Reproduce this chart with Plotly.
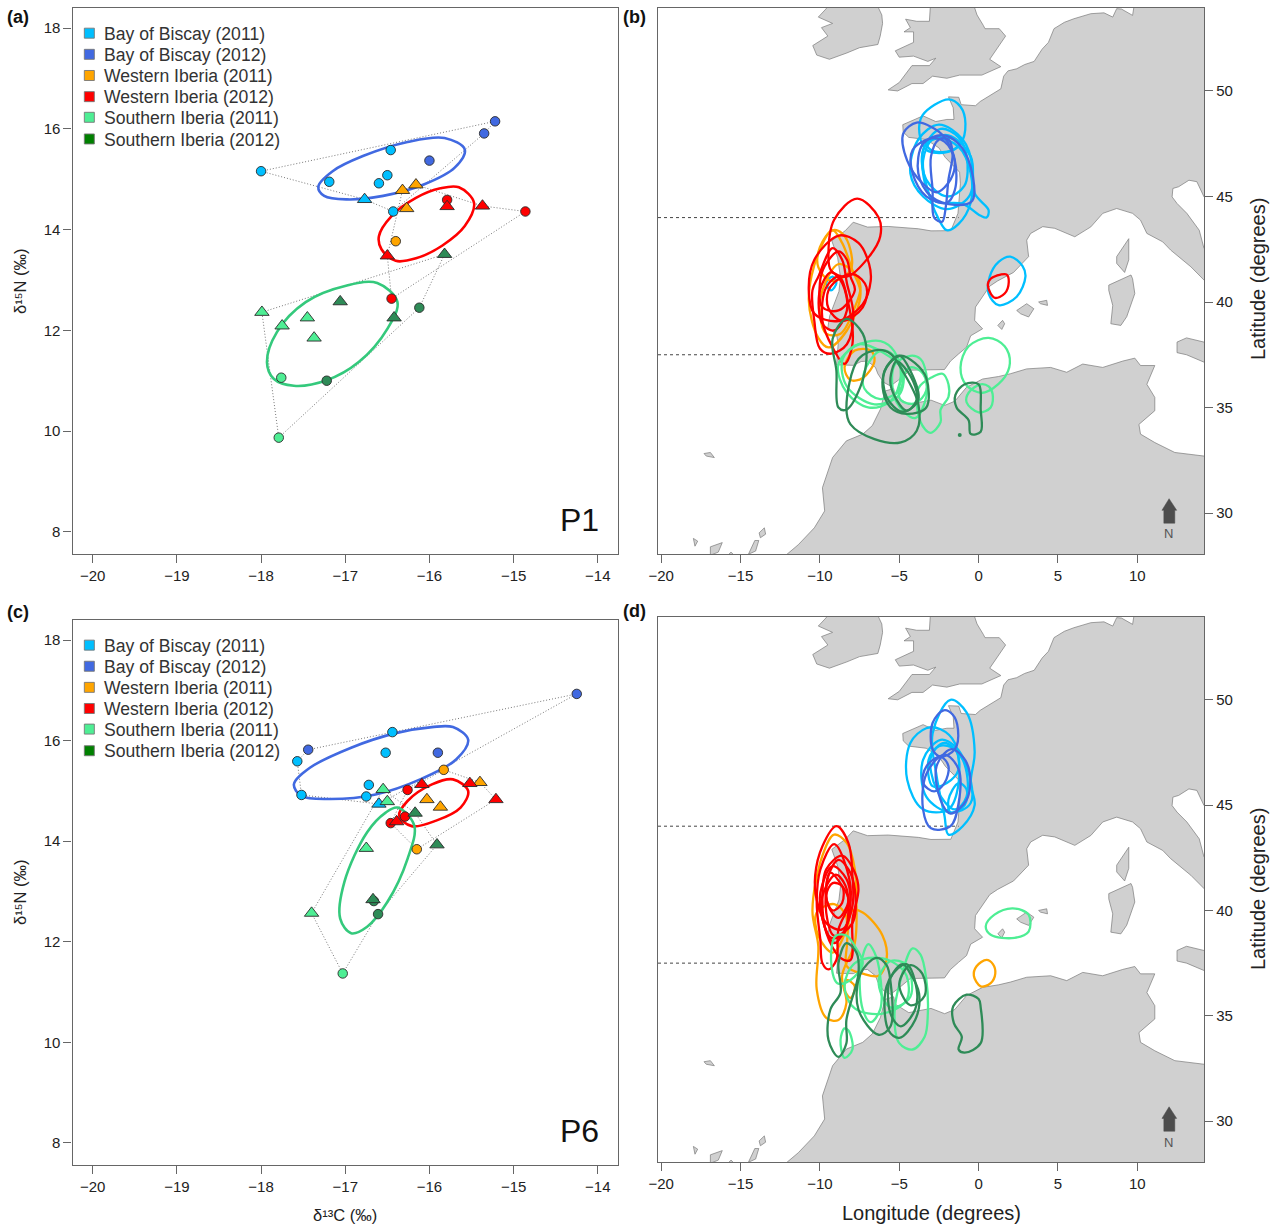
import plotly.graph_objects as go

W, H = 1278, 1228
GROUPS = ["Bay of Biscay (2011)", "Bay of Biscay (2012)", "Western Iberia (2011)",
          "Western Iberia (2012)", "Southern Iberia (2011)", "Southern Iberia (2012)"]
COLORS = ["#00BFFF", "#4169E1", "#FFA500", "#FF0000", "#4EEE94", "#2E8B57"]
LEGEND_SWATCH = ["#00BFFF", "#4169E1", "#FFA500", "#FF0000", "#4EEE94", "#008000"]
ELLIPSE_COLORS = {"b": "#4169E1", "r": "#FF0000", "g": "#34C97C"}

# ---------- Panel (a), P1: isotope values (d13C, d15N) ----------
A_CIRCLES = [
    [(-18.0, 15.16), (-17.19, 14.95), (-16.6, 14.92), (-16.5, 15.08), (-16.46, 15.58), (-16.43, 14.36)],
    [(-15.22, 16.15), (-15.35, 15.91), (-16.0, 15.37)],
    [(-16.4, 13.77)],
    [(-15.79, 14.59), (-14.86, 14.36), (-16.45, 12.63)],
    [(-17.76, 11.06), (-17.79, 9.87)],
    [(-16.12, 12.45), (-17.22, 11.0)],
]
A_TRIANGLES = [
    [(-16.77, 14.6)],
    [],
    [(-16.16, 14.89), (-16.32, 14.78), (-16.27, 14.42)],
    [(-15.79, 14.46), (-15.37, 14.47), (-16.5, 13.48)],
    [(-17.99, 12.36), (-17.75, 12.09), (-17.45, 12.25), (-17.37, 11.85)],
    [(-17.06, 12.57), (-16.42, 12.25), (-15.82, 13.51)],
]
A_HULLS = [
    [(-18.0, 15.16), (-15.22, 16.15), (-15.35, 15.91), (-16.43, 14.36), (-16.77, 14.6), (-18.0, 15.16)],
    [(-16.16, 14.89), (-15.37, 14.47), (-14.86, 14.36), (-16.45, 12.63), (-16.5, 13.48), (-16.32, 14.78), (-16.16, 14.89)],
    [(-17.99, 12.36), (-15.82, 13.51), (-16.12, 12.45), (-17.79, 9.87), (-17.99, 12.36)],
]
A_ELLIPSE_BLUE = [(-17.32, 14.85), (-17.15, 15.16), (-16.79, 15.46), (-16.26, 15.74), (-15.82, 15.82), (-15.58, 15.59),
                  (-15.7, 15.23), (-16.06, 14.9), (-16.55, 14.67), (-16.98, 14.6), (-17.25, 14.67)]
A_ELLIPSE_RED = [(-15.65, 14.84), (-15.47, 14.53), (-15.58, 14.07), (-15.85, 13.68), (-16.16, 13.43), (-16.4, 13.38),
                 (-16.57, 13.61), (-16.6, 13.87), (-16.45, 14.27), (-16.16, 14.63), (-15.87, 14.82)]
A_ELLIPSE_GREEN = [(-16.62, 12.94), (-16.38, 12.56), (-16.5, 12.03), (-16.84, 11.37), (-17.22, 11.01), (-17.61, 10.9),
                   (-17.85, 11.04), (-17.93, 11.37), (-17.81, 11.97), (-17.47, 12.56), (-16.98, 12.89)]

# ---------- Panel (c), P6 ----------
C_CIRCLES = [
    [(-17.57, 15.59), (-17.52, 14.92), (-16.75, 14.89), (-16.72, 15.12), (-16.52, 15.76), (-16.44, 16.17)],
    [(-17.44, 15.82), (-15.9, 15.76), (-14.25, 16.93)],
    [(-15.83, 15.42), (-16.15, 13.84)],
    [(-16.26, 15.02), (-16.29, 14.49), (-16.46, 14.36)],
    [(-17.03, 11.37)],
    [(-16.66, 12.81), (-16.61, 12.55)],
]
C_TRIANGLES = [
    [(-16.6, 14.74)],
    [],
    [(-15.4, 15.17), (-16.03, 14.83), (-15.87, 14.68)],
    [(-16.09, 15.13), (-15.52, 15.15), (-15.21, 14.83), (-16.39, 14.39)],
    [(-16.55, 15.03), (-16.5, 14.79), (-16.75, 13.86), (-17.4, 12.57)],
    [(-16.17, 14.56), (-15.91, 13.93), (-16.67, 12.84)],
]
C_HULLS = [
    [(-17.44, 15.82), (-16.44, 16.17), (-14.25, 16.93), (-16.6, 14.74), (-17.52, 14.92), (-17.57, 15.59), (-17.44, 15.82)],
    [(-15.83, 15.42), (-15.4, 15.17), (-15.21, 14.83), (-16.15, 13.84), (-16.46, 14.36), (-16.26, 15.02), (-15.83, 15.42)],
    [(-16.55, 15.03), (-16.17, 14.56), (-15.91, 13.93), (-16.61, 12.55), (-17.03, 11.37), (-17.4, 12.57), (-16.55, 15.03)],
]
C_ELLIPSE_BLUE = [(-15.72, 16.27), (-15.54, 16.02), (-15.68, 15.63), (-16.11, 15.23), (-16.64, 14.93), (-17.18, 14.84),
                  (-17.52, 14.9), (-17.61, 15.13), (-17.42, 15.46), (-16.93, 15.86), (-16.4, 16.15), (-15.97, 16.27)]
C_ELLIPSE_RED = [(-15.72, 15.23), (-15.54, 15.0), (-15.63, 14.67), (-15.92, 14.41), (-16.21, 14.3), (-16.36, 14.51),
                 (-16.26, 14.8), (-15.97, 15.13)]
C_ELLIPSE_GREEN = [(-16.38, 14.67), (-16.18, 14.31), (-16.26, 13.65), (-16.5, 12.79), (-16.74, 12.3), (-16.93, 12.17),
                   (-17.06, 12.46), (-17.01, 13.19), (-16.74, 14.18), (-16.52, 14.57)]

# ---------- Land outlines (lon, lat) ----------
LAND_EUROPE = [
    (15, 55), (15, 45.05), (14.2, 44.98), (13.75, 45.7), (13.25, 45.77), (12.6, 45.46), (12.24, 45.38), (12.19, 44.98),
    (12.5, 44.67), (13.12, 44.2), (13.9, 43.4), (14.2, 42.54), (15, 42), (15, 40.4), (14.2, 41.04), (13.37, 41.67),
    (12.1, 42.46), (11.6, 42.85), (10.6, 43.25), (10.2, 43.88), (9.7, 44.2), (8.7, 44.43), (7.82, 44.2), (7.07, 43.56),
    (6.06, 43.09), (4.8, 43.49), (4.04, 43.57), (3.28, 43.25), (3.03, 42.93), (3.15, 42.15), (2.2, 41.4), (1.2, 41.0),
    (0.7, 40.75), (0.38, 40.4), (-0.2, 39.76), (-0.25, 39.13), (0.25, 38.73), (-0.5, 38.4), (-0.76, 37.86), (-1.26, 37.54),
    (-1.77, 37.2), (-2.15, 36.8), (-3.3, 36.8), (-4.3, 36.77), (-5.05, 36.3), (-5.55, 36.02), (-6.0, 36.2), (-6.35, 36.6),
    (-6.5, 36.9), (-7.0, 37.2), (-7.4, 37.18), (-7.9, 37.0), (-8.95, 37.02), (-8.85, 38.0), (-8.95, 38.45), (-9.5, 38.78),
    (-9.38, 39.35), (-8.8, 40.5), (-8.7, 41.15), (-8.88, 42.1), (-9.25, 42.9), (-8.4, 43.38), (-7.9, 43.78), (-7.0, 43.55),
    (-5.7, 43.58), (-3.8, 43.47), (-3.0, 43.37), (-1.75, 43.38), (-1.3, 44.2), (-1.25, 44.65), (-1.15, 45.6), (-1.2, 46.15),
    (-2.1, 46.85), (-2.5, 47.3), (-3.3, 47.7), (-4.4, 47.8), (-4.75, 48.05), (-4.78, 48.4), (-3.5, 48.82), (-2.7, 48.55),
    (-2.0, 48.65), (-1.55, 48.65), (-1.6, 49.2), (-1.9, 49.72), (-1.25, 49.7), (-1.1, 49.35), (-0.2, 49.3), (0.1, 49.5),
    (1.4, 50.1), (1.58, 50.7), (1.85, 50.95), (2.4, 51.05), (2.9, 51.25), (3.5, 51.4), (4.0, 51.98), (4.4, 52.3), (4.75, 52.95),
    (5.4, 53.25), (6.0, 53.42), (7.07, 53.66), (7.9, 53.7), (8.45, 53.5), (8.7, 53.9), (9.0, 53.88), (9.7, 53.58), (10, 55),
]
LAND_AFRICA = [
    (-12.5, 27), (-12.1, 28.03), (-11.36, 28.5), (-10.35, 29.3), (-9.7, 30.1), (-9.84, 31.2), (-9.2, 32.63), (-8.33, 33.42),
    (-7.3, 33.74), (-6.7, 34.14), (-6.18, 34.93), (-5.9, 35.78), (-5.35, 35.9), (-5.25, 35.55), (-4.4, 35.15), (-3.7, 35.25),
    (-3.0, 35.35), (-2.14, 35.1), (-1.5, 35.3), (-0.76, 35.96), (0.25, 36.35), (1.26, 36.47), (2.0, 36.6), (3.03, 36.83),
    (4.54, 36.9), (5.55, 36.67), (6.56, 37.06), (7.82, 36.9), (9.08, 37.2), (9.84, 37.34), (10.2, 36.99), (11.1, 36.99),
    (10.6, 36.1), (11.1, 35.48), (11.1, 34.85), (10.1, 34.2), (10.2, 33.74), (11.1, 33.34), (12.36, 32.87), (14.2, 32.7),
    (15, 32.6), (15, 27),
]
LAND_IRELAND = [
    (-6.35, 54.5), (-6.35, 54.0), (-6.1, 53.6), (-6.05, 53.2), (-6.2, 52.6), (-6.35, 52.2), (-7.5, 52.05), (-8.3, 51.8),
    (-9.4, 51.5), (-10.2, 51.7), (-10.45, 52.15), (-9.5, 52.6), (-9.9, 53.0), (-9.2, 53.2), (-10.1, 53.5), (-9.6, 53.9), (-10.0, 54.5),
]
LAND_BRITAIN = [
    (-3.0, 54.5), (-3.05, 53.7), (-3.1, 53.3), (-3.9, 53.3), (-4.6, 53.4), (-4.3, 53.0), (-4.7, 52.8), (-4.1, 52.8), (-4.1, 52.3),
    (-5.25, 51.9), (-5.0, 51.6), (-4.1, 51.65), (-3.2, 51.4), (-2.7, 51.55), (-3.1, 51.2), (-4.2, 51.2), (-5.0, 50.4), (-5.7, 50.05),
    (-5.1, 50.0), (-4.2, 50.35), (-3.5, 50.35), (-2.9, 50.7), (-2.0, 50.6), (-1.2, 50.75), (0.2, 50.75), (1.4, 51.15), (0.7, 51.5),
    (1.7, 52.6), (1.3, 52.95), (0.4, 52.95), (0.3, 53.1), (-0.1, 53.6), (-0.5, 54.5),
]
LAND_ISLANDS = [
    [(12.5, 38.1), (13.1, 38.3), (14.2, 38.1), (15, 38), (15, 36.6), (14.2, 37.15), (13.1, 37.5), (12.5, 37.6)],
    [(9.6, 41.28), (8.2, 40.8), (8.2, 40.55), (8.45, 39.84), (8.33, 38.97), (8.96, 38.89), (9.33, 39.3), (9.84, 40.4), (9.7, 41.1)],
    [(9.46, 43.0), (8.7, 42.15), (8.7, 41.83), (9.2, 41.4), (9.46, 42.0)],
    [(2.4, 39.6), (3.03, 39.92), (3.48, 39.68), (3.15, 39.29), (2.65, 39.44)],
    [(3.78, 40.0), (4.29, 40.08), (4.34, 39.84), (3.9, 39.92)],
    [(1.21, 38.89), (1.51, 39.13), (1.64, 38.97), (1.46, 38.7)],
    [(-17.3, 32.82), (-16.9, 32.87), (-16.65, 32.63), (-17.16, 32.7)],
    [(-17.97, 28.8), (-17.7, 28.67), (-17.87, 28.43)],
    [(-16.9, 28.0), (-16.9, 28.4), (-16.15, 28.6), (-16.4, 28.15)],
    [(-15.8, 28.0), (-15.6, 28.15), (-15.4, 28.0)],
    [(-14.5, 28.05), (-14.1, 28.7), (-13.85, 28.7), (-14.05, 28.2)],
    [(-13.83, 29.06), (-13.5, 29.3), (-13.42, 29.0), (-13.75, 28.83)],
]
NORTH_ARROW_LON = [12.0, 12.48, 12.36, 12.36, 11.67, 11.67, 11.55, 12.0]
NORTH_ARROW_LAT = [30.68, 30.13, 30.13, 29.52, 29.52, 30.13, 30.13, 30.68]
DASH_NORTH_LAT, DASH_NORTH_END = 44.0, -1.26
DASH_SOUTH_LAT, DASH_SOUTH_END = 37.5, -9.46

# ---------- Panel (b) core ranges ----------
B_BISCAY11 = [
    [(-1.9, 49.6), (-3.53, 48.85), (-3.73, 48.0), (-3.28, 47.2), (-2.0, 47.1), (-1.14, 47.5), (-0.83, 48.45), (-1.14, 49.25)],
    [(-2.5, 48.4), (-3.8, 47.7), (-4.3, 46.1), (-3.5, 45.0), (-2.0, 44.4), (-0.6, 45.0), (-0.4, 46.4), (-1.0, 47.7)],
    [(0.5, 44.0), (0.63, 44.35), (-0.25, 45.15), (-0.5, 46.9), (-1.9, 47.9), (-3.3, 47.5), (-3.5, 46.1), (-2.8, 44.8), (-1.0, 44.65), (0.1, 44.1)],
    [(-2.0, 43.4), (-1.26, 43.7), (-0.5, 44.7), (-0.5, 46.1), (-1.26, 47.35), (-2.8, 47.75), (-3.5, 46.7), (-3.0, 44.8), (-2.5, 43.9)],
    [(-2.4, 48.2), (-3.5, 47.2), (-3.3, 45.8), (-2.0, 45.0), (-0.9, 45.5), (-0.75, 46.9), (-1.26, 47.8)],
    [(-2.27, 47.8), (-3.28, 47.5), (-3.0, 47.2), (-2.27, 47.1), (-1.4, 47.3), (-1.26, 47.6)],
    [(2.0, 42.15), (1.26, 41.9), (0.7, 41.2), (0.63, 40.4), (1.26, 39.85), (2.4, 40.25), (2.95, 41.2), (2.77, 41.7)],
    [(-9.2, 41.2), (-9.6, 40.9), (-9.3, 40.55), (-8.96, 40.9)],
]
B_BISCAY12 = [
    [(-3.9, 48.5), (-4.74, 48.0), (-4.5, 46.7), (-3.5, 45.6), (-2.65, 45.2), (-1.77, 45.8), (-1.5, 46.7), (-2.15, 47.8), (-3.0, 48.3)],
    [(-2.27, 47.9), (-3.5, 47.5), (-3.8, 46.1), (-3.0, 45.0), (-1.5, 44.6), (-0.4, 44.8), (-0.5, 46.4), (-1.26, 47.5)],
    [(-2.5, 47.7), (-3.0, 46.9), (-2.9, 45.3), (-2.8, 44.0), (-2.3, 43.8), (-2.07, 44.5), (-1.9, 45.8), (-1.64, 47.0), (-1.9, 47.7)],
    [(-3.0, 47.75), (-4.16, 47.2), (-4.16, 46.1), (-3.3, 45.0), (-2.0, 44.7), (-1.5, 45.3), (-1.5, 46.7), (-2.15, 47.6)],
]
B_WEST11 = [
    [(-9.2, 43.4), (-10.1, 42.3), (-10.7, 40.1), (-10.1, 38.3), (-9.46, 37.85), (-8.3, 38.65), (-7.44, 40.4), (-7.95, 41.5), (-8.6, 42.8)],
    [(-9.2, 43.4), (-10.0, 42.6), (-10.1, 41.65), (-9.3, 41.0), (-8.07, 41.5), (-8.07, 42.45), (-8.6, 43.25)],
    [(-7.8, 37.7), (-8.45, 36.9), (-8.07, 36.3), (-7.3, 36.4), (-6.56, 37.2), (-6.8, 37.7)],
    [(-8.83, 41.8), (-9.84, 40.55), (-10.0, 39.45), (-9.6, 38.5), (-8.7, 38.5), (-7.8, 39.75), (-7.44, 40.7), (-7.8, 41.35)],
]
B_WEST12 = [
    [(-7.65, 44.9), (-6.3, 44.0), (-6.2, 43.1), (-6.9, 42.15), (-8.3, 41.2), (-9.3, 41.5), (-9.46, 42.3), (-9.1, 43.9)],
    [(-8.8, 43.15), (-10.35, 42.0), (-10.7, 40.55), (-10.35, 39.45), (-8.83, 39.1), (-7.3, 39.9), (-6.8, 41.0), (-6.9, 41.8), (-7.57, 42.8)],
    [(-9.2, 42.55), (-10.1, 41.2), (-10.47, 40.55), (-10.35, 39.1), (-10.0, 37.8), (-9.3, 37.55), (-8.3, 38.0), (-7.9, 39.45), (-8.3, 40.9), (-8.6, 42.0)],
    [(-8.45, 37.07), (-9.2, 37.85), (-9.84, 39.1), (-9.6, 40.7), (-8.8, 41.2), (-8.2, 39.9), (-7.95, 38.0)],
    [(-8.83, 42.4), (-9.7, 41.7), (-10.0, 40.9), (-9.84, 39.75), (-8.83, 39.6), (-7.8, 40.55), (-8.07, 41.2), (-8.3, 42.0)],
    [(-8.6, 41.2), (-9.46, 40.55), (-9.46, 39.7), (-8.6, 39.1), (-7.3, 39.75), (-7.06, 40.7), (-7.8, 41.3)],
    [(-9.3, 41.4), (-10.0, 40.55), (-9.84, 38.97), (-9.1, 38.65), (-8.3, 39.6), (-8.6, 40.9)],
    [(1.39, 41.3), (0.76, 41.1), (0.58, 40.8), (1.0, 40.2), (1.64, 40.4), (1.9, 40.95), (1.77, 41.3)],
]
B_SOUTH11 = [
    [(0.63, 38.3), (-0.63, 37.9), (-1.14, 36.9), (-0.76, 36.05), (0.25, 35.7), (1.5, 36.3), (1.97, 37.1), (1.64, 37.9)],
    [(0.13, 36.1), (-0.63, 35.7), (-0.76, 35.25), (0.0, 34.77), (0.76, 35.0), (0.88, 35.65), (0.63, 36.0)],
    [(-2.9, 36.45), (-3.8, 35.9), (-3.65, 34.3), (-3.03, 33.8), (-2.4, 34.3), (-2.4, 34.9), (-1.9, 35.5), (-1.9, 36.1), (-2.27, 36.6)],
    [(-4.3, 37.45), (-5.3, 37.0), (-5.2, 35.3), (-4.0, 34.5), (-3.3, 35.5), (-3.3, 36.6), (-3.66, 37.3)],
    [(-6.18, 38.15), (-7.8, 37.9), (-8.85, 37.0), (-8.3, 35.7), (-6.9, 35.0), (-5.55, 35.3), (-4.9, 36.5), (-5.3, 37.65)],
    [(-7.56, 38.0), (-8.56, 37.3), (-8.3, 36.0), (-6.56, 35.15), (-5.0, 35.6), (-4.8, 36.8), (-6.0, 37.6)],
    [(-6.3, 37.65), (-7.2, 36.7), (-7.2, 35.9), (-6.2, 35.4), (-4.9, 35.9), (-4.9, 36.9), (-5.55, 37.6)],
    [(-4.3, 36.9), (-5.0, 36.0), (-4.9, 35.35), (-4.0, 35.2), (-3.3, 35.8), (-3.5, 36.6)],
]
B_SOUTH12 = [
    [(-8.33, 39.2), (-9.2, 38.25), (-8.96, 36.75), (-8.83, 35.0), (-8.33, 34.9), (-7.44, 36.0), (-7.06, 37.4), (-7.3, 38.5)],
    [(-6.3, 37.73), (-7.57, 37.3), (-8.33, 35.0), (-8.07, 34.2), (-6.56, 33.5), (-4.9, 33.35), (-3.9, 33.9), (-3.8, 35.17), (-4.8, 36.75), (-5.55, 37.55)],
    [(-4.92, 37.46), (-5.8, 36.9), (-6.05, 35.96), (-5.55, 35.0), (-4.54, 34.7), (-3.3, 35.0), (-3.3, 36.4), (-4.0, 37.1)],
    [(-5.0, 37.46), (-5.93, 36.74), (-5.8, 35.5), (-4.8, 34.8), (-3.8, 35.36), (-4.3, 36.74)],
    [(-5.17, 37.2), (-5.55, 36.1), (-4.54, 34.85), (-3.9, 35.36), (-4.0, 36.0), (-4.67, 36.9)],
    [(-0.88, 36.1), (-1.46, 35.6), (-1.39, 35.0), (-0.63, 34.4), (-0.5, 33.75), (0.13, 33.85), (0.13, 34.9), (0.0, 36.1)],
]
B_SOUTH12_DOT = [(-1.19, 33.7)]

# ---------- Panel (d) core ranges ----------
D_BISCAY11 = [
    [(-1.77, 50.0), (-0.76, 49.4), (-0.25, 47.55), (-0.5, 46.05), (-0.25, 45.0), (-1.0, 44.0), (-1.9, 43.6), (-2.15, 44.5), (-2.65, 46.4), (-2.9, 48.4)],
    [(-3.3, 48.65), (-4.3, 47.95), (-4.5, 46.2), (-3.5, 44.8), (-1.9, 44.8), (-1.26, 46.05), (-1.5, 47.95), (-2.4, 48.6)],
    [(-2.4, 48.1), (-3.5, 47.15), (-3.3, 45.4), (-1.77, 44.65), (-0.5, 45.1), (-0.76, 46.85), (-1.5, 47.8)],
    [(-2.15, 47.95), (-3.0, 47.3), (-2.65, 45.75), (-1.5, 44.8), (-0.76, 45.4), (-1.0, 47.15)],
    [(-2.5, 47.8), (-3.15, 47.15), (-2.9, 45.9), (-2.0, 46.05), (-1.26, 46.7), (-1.5, 47.65)],
    [(-1.9, 45.25), (-1.26, 46.05), (-0.76, 45.75), (-0.88, 45.0), (-1.77, 44.65)],
]
D_BISCAY12 = [
    [(-2.2, 49.5), (-2.9, 48.9), (-2.9, 47.65), (-2.4, 47.3), (-1.5, 47.65), (-1.3, 48.6), (-1.64, 49.3)],
    [(-1.77, 47.65), (-2.65, 46.85), (-2.4, 45.25), (-1.77, 44.6), (-0.76, 45.25), (-0.55, 46.5), (-1.0, 47.3)],
    [(-2.4, 47.3), (-3.28, 46.85), (-3.5, 46.05), (-2.8, 45.65), (-2.15, 46.05), (-1.9, 46.85)],
    [(-2.15, 47.4), (-3.28, 46.5), (-3.5, 44.8), (-3.0, 43.9), (-1.77, 44.0), (-1.26, 45.1), (-1.26, 46.7)],
]
D_WEST11 = [
    [(-9.1, 43.6), (-9.84, 42.6), (-10.47, 40.0), (-10.1, 38.3), (-10.2, 36.25), (-9.6, 34.9), (-8.83, 34.8), (-8.33, 35.6), (-8.6, 36.9), (-7.8, 38.45), (-7.7, 40.5), (-7.8, 41.95), (-8.3, 43.2)],
    [(-7.95, 40.0), (-8.3, 38.3), (-8.3, 37.35), (-7.3, 37.0), (-6.3, 36.9), (-5.8, 37.65), (-6.05, 38.8), (-7.3, 39.9)],
    [(-8.33, 36.7), (-8.45, 36.25), (-8.07, 35.85), (-7.8, 36.4)],
    [(0.5, 37.65), (-0.13, 37.35), (-0.3, 36.9), (0.13, 36.4), (0.76, 36.55), (1.05, 37.0), (0.9, 37.45)],
    [(-9.1, 40.3), (-10.2, 39.9), (-10.1, 38.8), (-9.2, 38.0), (-8.6, 38.6), (-8.33, 39.7)],
]
D_WEST12 = [
    [(-8.96, 44.0), (-9.84, 43.05), (-10.3, 41.65), (-10.2, 40.5), (-9.6, 39.4), (-8.6, 39.1), (-7.95, 40.2), (-7.95, 41.65), (-8.2, 43.2)],
    [(-9.1, 43.15), (-9.97, 41.95), (-10.2, 40.4), (-9.97, 38.6), (-9.84, 37.5), (-9.46, 37.2), (-8.96, 37.65), (-8.83, 39.1), (-8.07, 40.5), (-8.3, 41.95)],
    [(-8.6, 42.6), (-9.6, 41.95), (-9.84, 40.5), (-9.6, 38.95), (-8.7, 37.75), (-8.07, 37.65), (-7.95, 39.55), (-7.57, 41.0), (-7.8, 41.8)],
    [(-9.2, 42.1), (-9.97, 40.85), (-9.84, 39.6), (-9.1, 38.45), (-8.33, 39.25), (-8.07, 40.5), (-8.33, 41.5)],
    [(-9.34, 41.8), (-9.6, 41.15), (-9.46, 40.2), (-8.83, 39.65), (-8.2, 40.5), (-8.6, 41.17)],
    [(-9.2, 41.3), (-9.6, 40.7), (-9.2, 40.0), (-8.6, 40.35), (-8.6, 41.15)],
    [(-8.83, 42.4), (-9.46, 41.65), (-9.6, 39.9), (-9.1, 38.8), (-7.95, 39.4), (-7.8, 41.0), (-8.2, 41.95)],
    [(-9.0, 41.7), (-9.75, 40.9), (-9.9, 39.9), (-9.3, 38.7), (-8.5, 38.9), (-8.2, 40.2), (-8.4, 41.2)],
]
D_SOUTH11 = [
    [(2.15, 40.1), (1.0, 39.8), (0.45, 39.25), (0.76, 38.85), (2.27, 38.7), (3.15, 39.0), (3.15, 39.8)],
    [(-4.16, 38.2), (-4.9, 36.75), (-5.3, 35.1), (-5.0, 33.7), (-4.16, 33.4), (-3.4, 34.0), (-3.2, 35.1), (-3.3, 36.75), (-3.66, 37.9)],
    [(-6.3, 37.75), (-7.8, 37.5), (-8.45, 36.4), (-7.8, 35.35), (-6.05, 35.1), (-4.54, 35.75), (-4.54, 36.9), (-5.3, 37.5)],
    [(-9.0, 38.8), (-9.3, 37.65), (-8.9, 36.55), (-8.07, 36.7), (-7.3, 37.5), (-7.8, 38.3), (-8.3, 38.8)],
    [(-6.95, 38.4), (-7.44, 37.35), (-7.3, 35.3), (-6.8, 34.7), (-6.2, 35.3), (-6.2, 36.9), (-6.56, 38.0)],
    [(-8.45, 34.4), (-8.7, 33.85), (-8.45, 33.0), (-7.95, 33.4), (-8.2, 34.3)],
    [(-5.55, 37.6), (-6.3, 36.65), (-5.55, 35.4), (-4.3, 35.9), (-4.54, 37.4)],
]
D_SOUTH12 = [
    [(-8.33, 38.45), (-8.83, 37.5), (-8.7, 36.1), (-9.34, 35.3), (-9.46, 33.85), (-8.83, 33.05), (-8.33, 33.7), (-8.33, 34.8), (-7.57, 37.0), (-7.7, 38.0)],
    [(-6.43, 37.75), (-7.44, 37.0), (-7.57, 35.3), (-6.3, 34.1), (-5.55, 34.5), (-5.55, 36.6), (-5.8, 37.4)],
    [(-4.8, 37.45), (-5.8, 36.4), (-5.67, 34.3), (-5.0, 33.95), (-4.0, 34.8), (-3.75, 36.05), (-4.3, 37.0)],
    [(-4.54, 37.45), (-5.55, 36.8), (-5.55, 35.1), (-4.9, 34.5), (-4.0, 35.3), (-3.9, 36.25)],
    [(-4.3, 37.4), (-5.0, 36.5), (-4.3, 35.5), (-3.4, 35.95), (-3.55, 37.0)],
    [(-0.76, 36.0), (-1.6, 35.45), (-1.56, 34.65), (-1.06, 34.0), (-1.26, 33.4), (-0.88, 33.25), (0.13, 33.7), (0.13, 35.4), (0.0, 35.8)],
]

ISO_X_TICKS = [-20, -19, -18, -17, -16, -15, -14]
ISO_Y_TICKS = [8, 10, 12, 14, 16, 18]
MAP_X_TICKS = [-20, -15, -10, -5, 0, 5, 10]
MAP_Y_TICKS = [30, 35, 40, 45, 50]
LEGEND_Y = [17.90, 17.48, 17.06, 16.64, 16.23, 15.80]
LEGEND_X = -20.04

FONT = "Liberation Sans"
TXT = "#222222"
FRAME = "#666666"


def px(x):
    return x / W


def py(y):
    return 1 - y / H


def closed_loops(loops):
    xs, ys = [], []
    for loop in loops:
        wrapped = list(loop) + [loop[0]]
        xs += [p[0] for p in wrapped] + [None]
        ys += [p[1] for p in wrapped] + [None]
    return xs, ys


fig = go.Figure()


def axis(dom, rng, ticks, side, anchor):
    return dict(domain=dom, range=rng, tickvals=ticks, side=side, anchor=anchor, showgrid=False, zeroline=False,
                automargin=False, showline=True, mirror=True, linecolor=FRAME, linewidth=1.3, ticks="outside", ticklen=8,
                tickwidth=1.1, tickcolor=FRAME, tickfont=dict(family=FONT, size=15, color=TXT), fixedrange=True)


layout_axes = {}
ISO_XR, ISO_YR = [-20.24, -13.76], [7.56, 18.4]
MAP_XR, MAP_YR = [-20.2, 14.2], [28.06, 53.93]
layout_axes["xaxis"] = axis([px(72.5), px(618)], ISO_XR, ISO_X_TICKS, "bottom", "y")
layout_axes["yaxis"] = axis([py(554), py(8)], ISO_YR, ISO_Y_TICKS, "left", "x")
layout_axes["xaxis2"] = axis([px(658), px(1204)], MAP_XR, MAP_X_TICKS, "bottom", "y2")
layout_axes["yaxis2"] = axis([py(554), py(8)], MAP_YR, MAP_Y_TICKS, "right", "x2")
layout_axes["xaxis3"] = axis([px(72.5), px(618)], ISO_XR, ISO_X_TICKS, "bottom", "y3")
layout_axes["yaxis3"] = axis([py(1165), py(620)], ISO_YR, ISO_Y_TICKS, "left", "x3")
layout_axes["xaxis4"] = axis([px(658), px(1204)], MAP_XR, MAP_X_TICKS, "bottom", "y4")
layout_axes["yaxis4"] = axis([py(1162), py(617)], MAP_YR, MAP_Y_TICKS, "right", "x4")


def add_iso(circles, triangles, hulls, ell_b, ell_r, ell_g, xa, ya):
    hx, hy = [], []
    for h in hulls:
        hx += [p[0] for p in h] + [None]
        hy += [p[1] for p in h] + [None]
    fig.add_trace(go.Scatter(x=hx, y=hy, mode="lines", xaxis=xa, yaxis=ya, showlegend=False, hoverinfo="skip",
                             line=dict(color="#777777", width=1, dash="1px,2px")))
    for loop, key in ((ell_b, "b"), (ell_r, "r"), (ell_g, "g")):
        x, y = closed_loops([loop])
        fig.add_trace(go.Scatter(x=x, y=y, mode="lines", xaxis=xa, yaxis=ya, showlegend=False, hoverinfo="skip",
                                 line=dict(color=ELLIPSE_COLORS[key], width=2.6, shape="spline", smoothing=1.0)))
    for pts, sym, size in ((circles, "circle", 9.5), (triangles, "triangle-up", 12.5)):
        for g, vals in enumerate(pts):
            if not vals:
                continue
            fig.add_trace(go.Scatter(x=[p[0] for p in vals], y=[p[1] for p in vals], mode="markers", xaxis=xa, yaxis=ya,
                                     name=GROUPS[g], showlegend=False,
                                     marker=dict(symbol=sym, size=size, color=COLORS[g], line=dict(color="#2a2a2a", width=0.9))))
    for g, name in enumerate(GROUPS):
        fig.add_trace(go.Scatter(x=[LEGEND_X], y=[LEGEND_Y[g]], mode="markers", xaxis=xa, yaxis=ya, name=name, showlegend=False,
                                 marker=dict(symbol="square", size=10, color=LEGEND_SWATCH[g], line=dict(color="#777777", width=0.9))))


def add_map(groups, xa, ya):
    polys = [LAND_EUROPE, LAND_AFRICA, LAND_IRELAND, LAND_BRITAIN] + LAND_ISLANDS
    x, y = closed_loops(polys)
    fig.add_trace(go.Scatter(x=x, y=y, mode="lines", fill="toself", fillcolor="#D0D0D0", xaxis=xa, yaxis=ya, showlegend=False,
                             hoverinfo="skip", line=dict(color="#7a7a7a", width=0.7)))
    for lat, end in ((DASH_NORTH_LAT, DASH_NORTH_END), (DASH_SOUTH_LAT, DASH_SOUTH_END)):
        fig.add_trace(go.Scatter(x=[MAP_XR[0], end], y=[lat, lat], mode="lines", xaxis=xa, yaxis=ya, showlegend=False,
                                 hoverinfo="skip", line=dict(color="#444444", width=1, dash="3px,3px")))
    for g, loops in enumerate(groups):
        x, y = closed_loops(loops)
        fig.add_trace(go.Scatter(x=x, y=y, mode="lines", xaxis=xa, yaxis=ya, name=GROUPS[g], showlegend=False,
                                 line=dict(color=COLORS[g], width=2.3, shape="spline", smoothing=1.0)))
    fig.add_trace(go.Scatter(x=NORTH_ARROW_LON, y=NORTH_ARROW_LAT, mode="lines", fill="toself", fillcolor="#4d4d4d", xaxis=xa,
                             yaxis=ya, showlegend=False, hoverinfo="skip", line=dict(color="#4d4d4d", width=0.5)))


add_iso(A_CIRCLES, A_TRIANGLES, A_HULLS, A_ELLIPSE_BLUE, A_ELLIPSE_RED, A_ELLIPSE_GREEN, "x", "y")
add_map([B_BISCAY11, B_BISCAY12, B_WEST11, B_WEST12, B_SOUTH11, B_SOUTH12], "x2", "y2")
fig.add_trace(go.Scatter(x=[p[0] for p in B_SOUTH12_DOT], y=[p[1] for p in B_SOUTH12_DOT], mode="markers", xaxis="x2", yaxis="y2",
                         showlegend=False, marker=dict(size=4, color=COLORS[5])))
add_iso(C_CIRCLES, C_TRIANGLES, C_HULLS, C_ELLIPSE_BLUE, C_ELLIPSE_RED, C_ELLIPSE_GREEN, "x3", "y3")
add_map([D_BISCAY11, D_BISCAY12, D_WEST11, D_WEST12, D_SOUTH11, D_SOUTH12], "x4", "y4")

ann = []


def note(text, x, y, size, color=TXT, anchor="center", angle=0, bold=False):
    shift = {"left": -3, "right": 3, "center": 0}[anchor]
    ann.append(dict(text=f"<b>{text}</b>" if bold else text, xref="paper", yref="paper", x=px(x + shift), y=py(y), xanchor=anchor,
                    yanchor="middle", showarrow=False, textangle=angle, font=dict(family=FONT, size=size, color=color)))


for tag, x, y in (("(a)", 8, 17), ("(b)", 624, 17), ("(c)", 8, 612), ("(d)", 624, 611)):
    note(tag, x, y, 18, "#111111", anchor="left", bold=True)
for i, name in enumerate(GROUPS):
    note(name, 105, [34, 55, 76, 97, 118, 140][i], 17.6, "#333333", anchor="left")
    note(name, 105, [646, 667, 688, 709, 730, 751][i], 17.6, "#333333", anchor="left")
note("P1", 598, 520, 32, "#111111", anchor="right")
note("P6", 598, 1131, 32, "#111111", anchor="right")
note("δ¹⁵N (‰)", 20, 281, 16.5, angle=-90)
note("δ¹⁵N (‰)", 20, 892, 16.5, angle=-90)
note("δ¹³C (‰)", 345, 1215, 16.5)
note("Longitude (degrees)", 931, 1213, 20)
note("Latitude (degrees)", 1258, 279, 20, angle=-90)
note("Latitude (degrees)", 1258, 889, 20, angle=-90)
note("N", 1168.5, 533, 13, "#555555")
note("N", 1168.5, 1142, 13, "#555555")

fig.update_layout(width=W, height=H, margin=dict(l=0, r=0, t=0, b=0), paper_bgcolor="white", plot_bgcolor="white",
                  showlegend=False, annotations=ann, font=dict(family=FONT), **layout_axes)
fig.write_html("out.html", post_script="document.body.style.margin='0';", config=dict(displayModeBar=False))
